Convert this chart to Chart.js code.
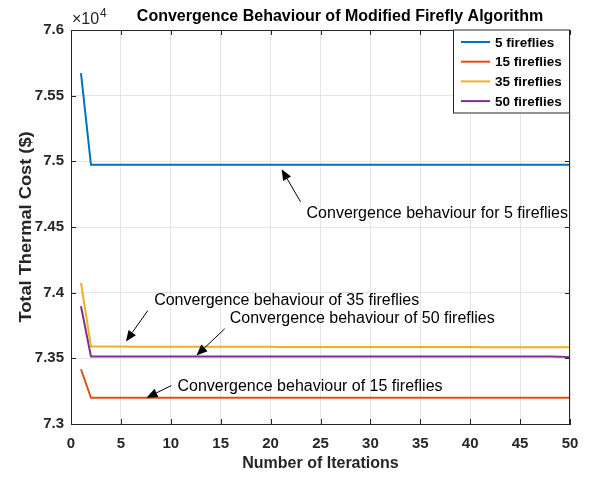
<!DOCTYPE html>
<html lang="en">
<head>
    <meta charset="UTF-8">
    <title>Convergence Behaviour of Modified Firefly Algorithm</title>
    <script src="https://cdn.jsdelivr.net/npm/chart.js"></script>
    <style>
        html, body { margin: 0; padding: 0; background: #fff; }
        #chart { display: block; }
    </style>
</head>
<body>
    <canvas id="chart" width="590" height="477"></canvas>

<script>
// iteraciones y costes
const iterations = [1,2,3,4,5,6,7,8,9,10,11,12,13,14,15,16,17,18,19,20,21,22,23,24,25,
                    26,27,28,29,30,31,32,33,34,35,36,37,38,39,40,41,42,43,44,45,46,47,48,49,50];

const cost5 = [75672,74974,74974,74974,74974,74974,74974,74974,74974,74974,
               74974,74974,74974,74974,74974,74974,74974,74974,74974,74974,
               74974,74974,74974,74974,74974,74974,74974,74974,74974,74974,
               74974,74974,74974,74974,74974,74974,74974,74974,74974,74974,
               74974,74974,74974,74974,74974,74974,74974,74974,74974,74974];

const cost15 = [73417,73200,73200,73200,73200,73200,73200,73200,73200,73200,
                73200,73200,73200,73200,73200,73200,73200,73200,73200,73200,
                73200,73200,73200,73200,73200,73200,73200,73200,73200,73200,
                73200,73200,73200,73200,73200,73200,73200,73200,73200,73200,
                73200,73200,73200,73200,73200,73200,73200,73200,73200,73200];

const cost35 = [74075,73590,73590,73590,73590,73589,73589,73589,73589,73589,
                73589,73589,73588,73588,73588,73588,73588,73588,73588,73588,
                73587,73587,73587,73587,73587,73587,73587,73587,73587,73586,
                73586,73586,73586,73586,73586,73586,73586,73586,73586,73586,
                73585,73585,73585,73585,73585,73585,73585,73585,73585,73585];

const cost50 = [73897,73514,73514,73514,73514,73514,73514,73514,73514,73514,
                73514,73514,73514,73514,73514,73514,73514,73514,73514,73514,
                73514,73514,73514,73514,73514,73514,73514,73514,73514,73514,
                73514,73514,73514,73514,73514,73514,73514,73514,73514,73514,
                73514,73514,73514,73514,73514,73514,73514,73514,73513,73508];

const seriesLabels = ['5 fireflies', '15 fireflies', '35 fireflies', '50 fireflies'];
const seriesColors = ['#0072BD', '#D95319', '#EDB120', '#7E2F8E'];
const seriesData = [cost5, cost15, cost35, cost50];

const xTicks = [0,5,10,15,20,25,30,35,40,45,50];
const yTicks = [73000,73500,74000,74500,75000,75500,76000];

// anotaciones (en unidades de datos)
const notes = [
    { text: 'Convergence behaviour for 5 fireflies', x: 23.6, y: 74603, tipX: 21.1, tipY: 74940, tailX: 23.0, tailY: 74692 },
    { text: 'Convergence behaviour of 35 fireflies', x: 8.33, y: 73940, tipX: 5.5, tipY: 73628, tailX: 7.7, tailY: 73864 },
    { text: 'Convergence behaviour of 50 fireflies', x: 15.9, y: 73801, tipX: 12.57, tipY: 73522, tailX: 15.4, tailY: 73725 },
    { text: 'Convergence behaviour of 15 fireflies', x: 10.67, y: 73285, tipX: 7.57, tipY: 73200, tailX: 10.07, tailY: 73293 }
];

const FONT = '"Liberation Sans", Arial, sans-serif';
const AXIS = '#262626';

function drawArrow(ctx, x1, y1, x2, y2) {
    const ang = Math.atan2(y2 - y1, x2 - x1);
    const len = 11, half = 4.5;
    const bx = x2 - len * Math.cos(ang), by = y2 - len * Math.sin(ang);
    ctx.beginPath();
    ctx.moveTo(x1, y1);
    ctx.lineTo(bx, by);
    ctx.strokeStyle = '#000';
    ctx.lineWidth = 1;
    ctx.stroke();
    ctx.beginPath();
    ctx.moveTo(x2, y2);
    ctx.lineTo(bx + half * Math.sin(ang), by - half * Math.cos(ang));
    ctx.lineTo(bx - half * Math.sin(ang), by + half * Math.cos(ang));
    ctx.closePath();
    ctx.fillStyle = '#000';
    ctx.fill();
}

const decorPlugin = {
    id: 'decor',
    afterDraw(chart) {
        const ctx = chart.ctx;
        const a = chart.chartArea;
        const xs = chart.scales.x, ys = chart.scales.y;
        ctx.save();

        // caja completa
        ctx.strokeStyle = AXIS;
        ctx.lineWidth = 1;
        ctx.beginPath();
        ctx.moveTo(a.left, a.top + 0.5);
        ctx.lineTo(a.right - 0.5, a.top + 0.5);
        ctx.lineTo(a.right - 0.5, a.bottom);
        ctx.stroke();

        // ticks hacia dentro
        ctx.beginPath();
        xTicks.forEach(v => {
            const px = Math.round(xs.getPixelForValue(v)) + 0.5;
            ctx.moveTo(px, a.bottom); ctx.lineTo(px, a.bottom - 5);
            ctx.moveTo(px, a.top); ctx.lineTo(px, a.top + 5);
        });
        yTicks.forEach(v => {
            const py = Math.round(ys.getPixelForValue(v)) + 0.5;
            ctx.moveTo(a.left, py); ctx.lineTo(a.left + 5, py);
            ctx.moveTo(a.right, py); ctx.lineTo(a.right - 5, py);
        });
        ctx.stroke();

        // titulo
        ctx.fillStyle = '#000';
        ctx.textAlign = 'center';
        ctx.textBaseline = 'middle';
        ctx.font = 'bold 16px ' + FONT;
        ctx.fillText('Convergence Behaviour of Modified Firefly Algorithm', 340, 17);

        // x10^4
        ctx.fillStyle = AXIS;
        ctx.textAlign = 'left';
        ctx.font = '16px ' + FONT;
        ctx.fillText('\u00d710', 72, 20);
        ctx.font = '12px ' + FONT;
        ctx.fillText('4', 100, 14);

        // titulos de ejes
        ctx.textAlign = 'center';
        ctx.font = 'bold 16px ' + FONT;
        ctx.fillText('Number of Iterations', (a.left + a.right) / 2, 464);
        ctx.save();
        ctx.translate(27, (a.top + a.bottom) / 2);
        ctx.rotate(-Math.PI / 2);
        ctx.scale(1.14, 1);
        ctx.fillText('Total Thermal Cost ($)', 0, 0);
        ctx.restore();

        // leyenda
        const lx = 453, ly = 29.5, lw = 117, lh = 84;
        ctx.fillStyle = '#fff';
        ctx.fillRect(lx, ly, lw, lh);
        ctx.strokeStyle = AXIS;
        ctx.strokeRect(lx + 0.5, ly + 0.5, lw - 1, lh - 1);
        ctx.font = 'bold 13.5px ' + FONT;
        ctx.textAlign = 'left';
        seriesLabels.forEach((lab, i) => {
            const yy = 42 + i * 19.7;
            ctx.strokeStyle = seriesColors[i];
            ctx.lineWidth = 2;
            ctx.beginPath();
            ctx.moveTo(461, yy); ctx.lineTo(490, yy);
            ctx.stroke();
            ctx.fillStyle = '#000';
            ctx.fillText(lab, 495, yy + 1);
        });

        // anotaciones
        ctx.font = '16px ' + FONT;
        notes.forEach(n => {
            drawArrow(ctx, xs.getPixelForValue(n.tailX), ys.getPixelForValue(n.tailY),
                      xs.getPixelForValue(n.tipX), ys.getPixelForValue(n.tipY));
            ctx.fillStyle = '#000';
            ctx.textAlign = 'left';
            ctx.fillText(n.text, xs.getPixelForValue(n.x), ys.getPixelForValue(n.y));
        });

        ctx.restore();
    }
};

const ctx = document.getElementById('chart').getContext('2d');
const chart = new Chart(ctx, {
    type: 'line',
    data: {
        datasets: seriesData.map((arr, i) => ({
            label: seriesLabels[i],
            data: arr.map((v, j) => ({ x: iterations[j], y: v })),
            borderColor: seriesColors[i],
            backgroundColor: seriesColors[i],
            borderWidth: 2,
            pointRadius: 0,
            tension: 0,
            fill: false
        }))
    },
    options: {
        responsive: false,
        animation: false,
        layout: { padding: { top: 30, right: 20, left: 0, bottom: 0 } },
        plugins: {
            legend: { display: false },
            tooltip: { enabled: false },
            title: { display: false }
        },
        scales: {
            x: {
                type: 'linear',
                min: 0, max: 50,
                afterBuildTicks: s => { s.ticks = xTicks.map(v => ({ value: v })); },
                afterFit: s => { s.height = 53; },
                grid: { color: '#e4e4e4', drawTicks: false },
                border: { color: AXIS, width: 1 },
                ticks: {
                    padding: 11,
                    color: AXIS,
                    maxRotation: 0,
                    font: { family: FONT, size: 15, weight: 'bold' }
                }
            },
            y: {
                min: 73000, max: 76000,
                afterBuildTicks: s => { s.ticks = yTicks.map(v => ({ value: v })); },
                afterFit: s => { s.width = 71; },
                grid: { color: '#e4e4e4', drawTicks: false },
                border: { color: AXIS, width: 1 },
                ticks: {
                    padding: 7,
                    color: AXIS,
                    font: { family: FONT, size: 15, weight: 'bold' },
                    callback: v => String(+(v / 10000).toFixed(3))
                }
            }
        }
    },
    plugins: [decorPlugin]
});
</script>
</body>
</html>
